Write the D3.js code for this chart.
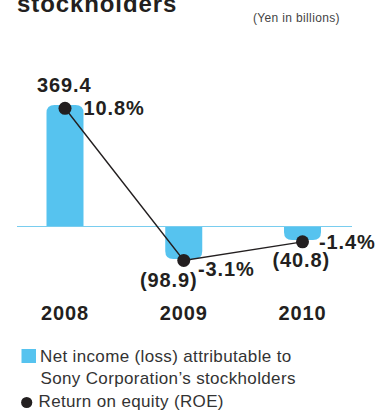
<!DOCTYPE html>
<html lang="en">
<head>
<meta charset="UTF-8">
<script src="https://d3js.org/d3.v7.min.js"></script>
<style>
  body { margin: 0; background: #fff; }
  svg { font-family: "Liberation Sans", Arial, sans-serif; }
</style>
</head>
<body>
<div id="chart"></div>
<script>
// data
const years = ["2008", "2009", "2010"];
const netIncome = [369.4, -98.9, -40.8];
const incomeLabels = ["369.4", "(98.9)", "(40.8)"];
const roe = [10.8, -3.1, -1.4];
const roeLabels = ["10.8%", "-3.1%", "-1.4%"];

const barColor = "#56c3ef";
const ink = "#231f20";

const svg = d3.select("#chart")
  .append("svg")
  .attr("width", 381)
  .attr("height", 412);

const x = d3.scalePoint()
  .domain(years)
  .range([65, 302.5]);

const y = d3.scaleLinear()
  .domain([0, 369.4])
  .range([226.5, 105]);

const yRoe = d3.scaleLinear()
  .domain([0, 10.8])
  .range([226.5, 108.3]);

const barW = 37;

// title (cut off at top) and unit
svg.append("text")
  .attr("x", 17).attr("y", 12)
  .style("font-size", "24px").style("font-weight", "bold")
  .style("letter-spacing", "0.9px")
  .style("fill", ink)
  .text("stockholders");

svg.append("text")
  .attr("x", 253).attr("y", 22.3)
  .style("font-size", "12px")
  .style("letter-spacing", "0.35px")
  .style("fill", "#444")
  .text("(Yen in billions)");

// bars with rounded end away from baseline
function barPath(d, i) {
  const x0 = x(years[i]) - barW / 2, x1 = x0 + barW;
  const y0 = y(0), y1 = y(d);
  const h = Math.abs(y1 - y0);
  const r = Math.min(8, h);
  if (d >= 0) {
    return `M${x0},${y0}V${y1 + r}Q${x0},${y1} ${x0 + r},${y1}H${x1 - r}Q${x1},${y1} ${x1},${y1 + r}V${y0}Z`;
  }
  return `M${x0},${y0}V${y1 - r}Q${x0},${y1} ${x0 + r},${y1}H${x1 - r}Q${x1},${y1} ${x1},${y1 - r}V${y0}Z`;
}

svg.append("g")
  .selectAll("path")
  .data(netIncome)
  .join("path")
  .attr("d", barPath)
  .style("fill", barColor);

// baseline
svg.append("line")
  .attr("x1", 17).attr("x2", 352)
  .attr("y1", y(0)).attr("y2", y(0))
  .style("stroke", "#79cdef")
  .style("stroke-width", 1);

// ROE line and dots
const line = d3.line()
  .x((d, i) => x(years[i]))
  .y(d => yRoe(d));

svg.append("path")
  .datum(roe)
  .attr("d", line)
  .style("fill", "none")
  .style("stroke", ink)
  .style("stroke-width", 1.4);

svg.append("g")
  .selectAll("circle")
  .data(roe)
  .join("circle")
  .attr("cx", (d, i) => x(years[i]))
  .attr("cy", d => yRoe(d))
  .attr("r", 6.5)
  .style("fill", ink);

// value labels
const bold = { "font-size": "20px", "font-weight": "bold", "letter-spacing": "0.9px", "fill": ink };
function styled(sel, st) { Object.entries(st).forEach(([k, v]) => sel.style(k, v)); return sel; }

const incPos = [[37, 91.7], [140, 286.7], [272.5, 266.7]];
const roePos = [[83.5, 115], [198, 276], [319, 249.3]];

styled(svg.append("g").selectAll("text")
  .data(incomeLabels)
  .join("text")
  .attr("x", (d, i) => incPos[i][0])
  .attr("y", (d, i) => incPos[i][1])
  .text(d => d), bold);

styled(svg.append("g").selectAll("text")
  .data(roeLabels)
  .join("text")
  .attr("x", (d, i) => roePos[i][0])
  .attr("y", (d, i) => roePos[i][1])
  .text(d => d), bold);

// year labels
styled(svg.append("g").selectAll("text")
  .data(years)
  .join("text")
  .attr("x", d => x(d))
  .attr("y", 320)
  .attr("text-anchor", "middle")
  .text(d => d), bold);

// legend
svg.append("rect")
  .attr("x", 21.5).attr("y", 349)
  .attr("width", 14.5).attr("height", 14)
  .style("fill", barColor);

const legendText = { "font-size": "17px", "letter-spacing": "0.35px", "fill": "#333" };
styled(svg.append("text").attr("x", 40).attr("y", 361.7)
  .text("Net income (loss) attributable to"), legendText);
styled(svg.append("text").attr("x", 40.5).attr("y", 384)
  .text("Sony Corporation\u2019s stockholders"), legendText);

svg.append("circle")
  .attr("cx", 26.7).attr("cy", 402.5)
  .attr("r", 5.6)
  .style("fill", ink);
styled(svg.append("text").attr("x", 38.5).attr("y", 406.7)
  .text("Return on equity (ROE)"), legendText);
</script>
</body>
</html>
